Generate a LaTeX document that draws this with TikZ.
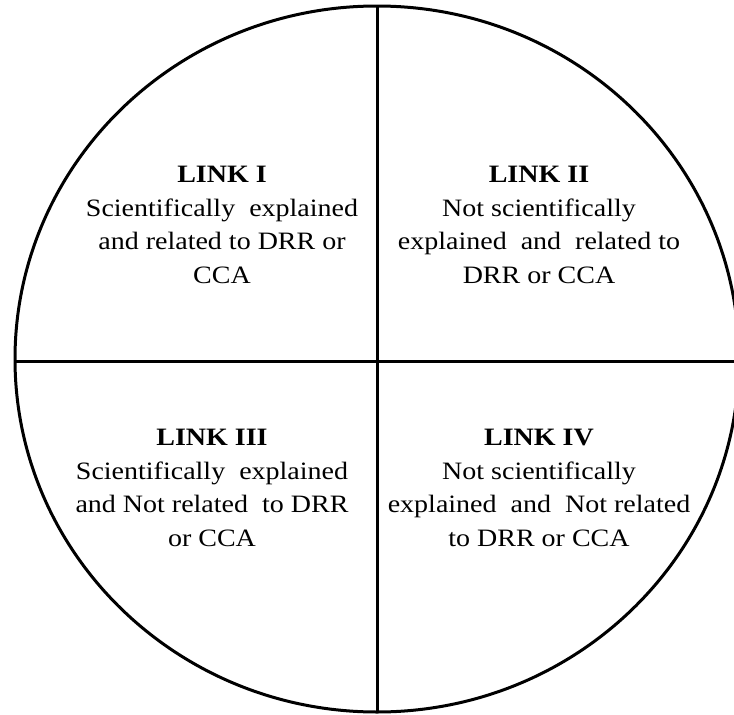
\documentclass[tikz,border=0pt]{standalone}
\usepackage{fontspec}
\setmainfont{Liberation Serif}[FakeStretch=1.12]
\begin{document}
\begin{tikzpicture}[x=1pt,y=-1pt,
  quad/.style={inner sep=0pt,align=center,anchor=base,
    font=\fontsize{25}{33.5}\selectfont},
  edge/.style={line width=3pt,black}]
\useasboundingbox (0,0) rectangle (734,715);
\coordinate (c) at (377,359);
\draw[edge] (c) ellipse [x radius=362,y radius=353];
\coordinate (top) at (377,6);
\coordinate (bot) at (377,712);
\coordinate (lft) at (15,361);
\coordinate (rgt) at (734,361);
\draw[edge] (top) -- (bot);
\draw[edge] (lft) -- (rgt);
% anchor=base is the baseline of the last line
\node[quad] (q1) at (222,283) {\textbf{LINK I}\\Scientifically\ \ explained\\and related\ to DRR or\\CCA};
\node[quad] (q2) at (539,283) {\textbf{LINK II}\\Not scientifically\\explained\ \ and\ \ related to\\DRR or CCA};
\node[quad] (q3) at (212,546) {\textbf{LINK III}\\Scientifically\ \ explained\\and Not related\ \ to DRR\\or CCA};
\node[quad] (q4) at (539,546) {\textbf{LINK IV}\\Not scientifically\\explained\ \ and\ \ Not related\\to DRR or CCA};
\end{tikzpicture}
\end{document}
